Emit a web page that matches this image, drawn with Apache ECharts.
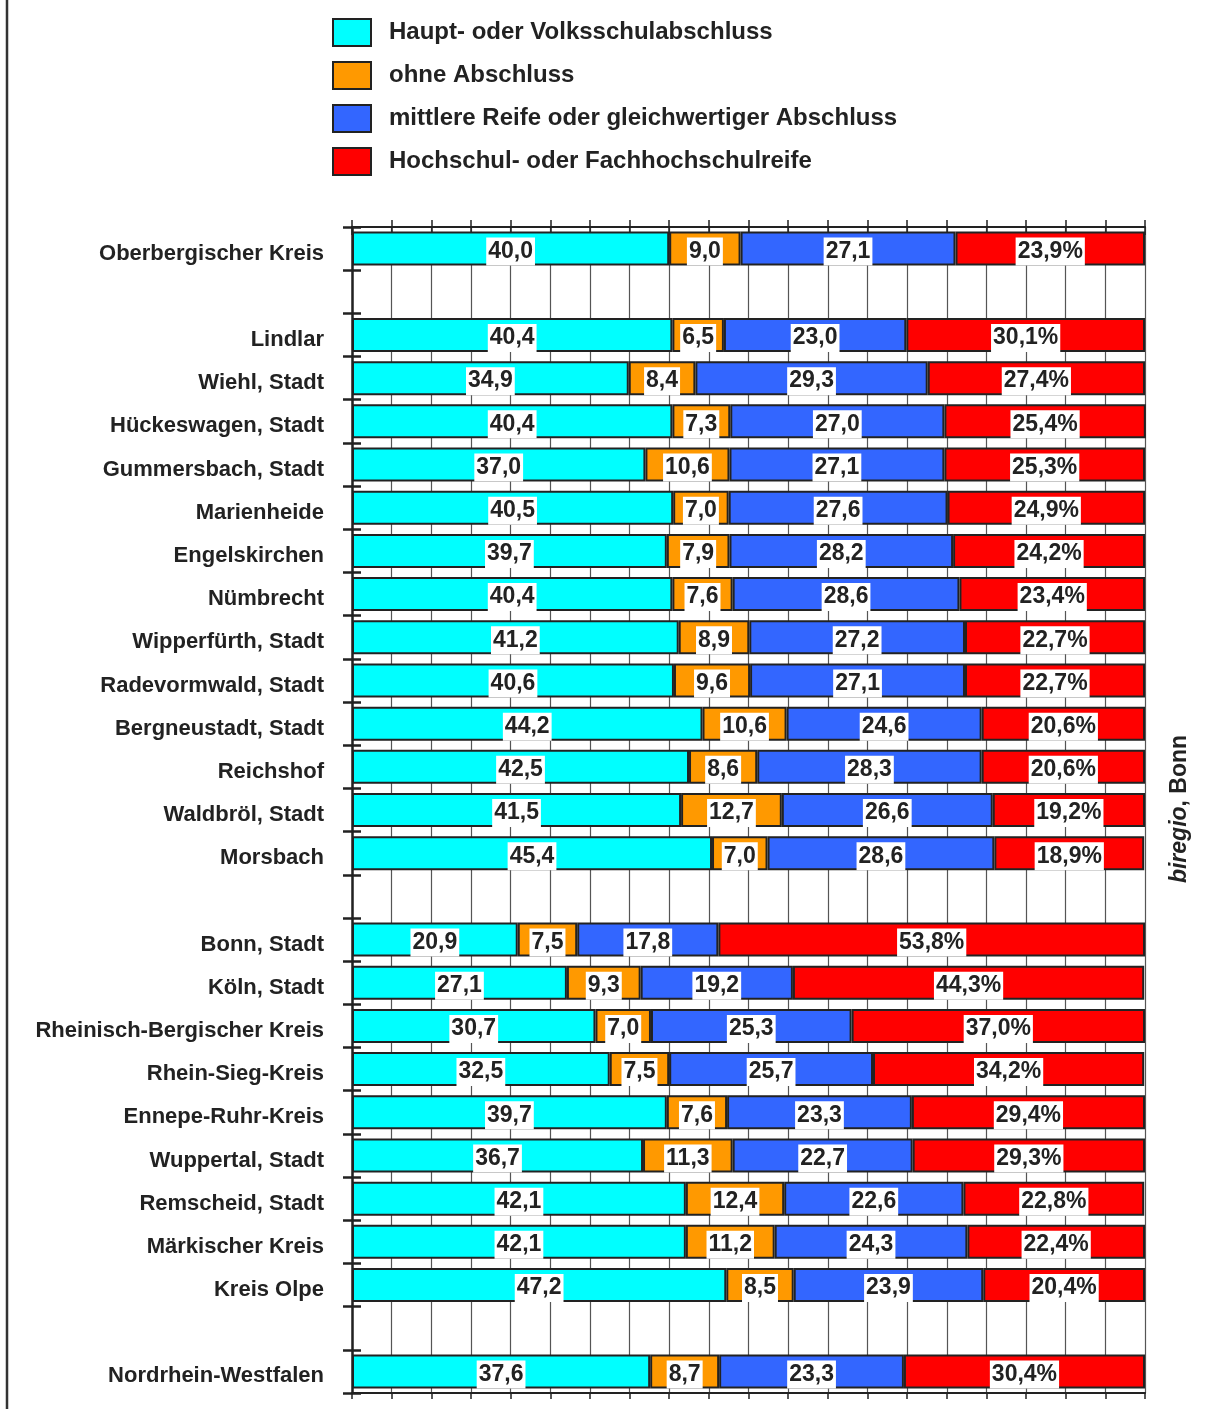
<!DOCTYPE html>
<html><head><meta charset="utf-8">
<script src="https://cdn.jsdelivr.net/npm/echarts@6/dist/echarts.min.js"></script>
<style>html,body{margin:0;padding:0;background:#fff}#c{width:1216px;height:1409px}</style>
</head><body><div id="c"></div>
<script>
const categories = ['Oberbergischer Kreis','', 'Lindlar','Wiehl, Stadt','Hückeswagen, Stadt','Gummersbach, Stadt','Marienheide','Engelskirchen','Nümbrecht','Wipperfürth, Stadt','Radevormwald, Stadt','Bergneustadt, Stadt','Reichshof','Waldbröl, Stadt','Morsbach','', 'Bonn, Stadt','Köln, Stadt','Rheinisch-Bergischer Kreis','Rhein-Sieg-Kreis','Ennepe-Ruhr-Kreis','Wuppertal, Stadt','Remscheid, Stadt','Märkischer Kreis','Kreis Olpe','', 'Nordrhein-Westfalen'];
const haupt   = [40.0,null,40.4,34.9,40.4,37.0,40.5,39.7,40.4,41.2,40.6,44.2,42.5,41.5,45.4,null,20.9,27.1,30.7,32.5,39.7,36.7,42.1,42.1,47.2,null,37.6];
const ohne    = [9.0,null,6.5,8.4,7.3,10.6,7.0,7.9,7.6,8.9,9.6,10.6,8.6,12.7,7.0,null,7.5,9.3,7.0,7.5,7.6,11.3,12.4,11.2,8.5,null,8.7];
const mittel  = [27.1,null,23.0,29.3,27.0,27.1,27.6,28.2,28.6,27.2,27.1,24.6,28.3,26.6,28.6,null,17.8,19.2,25.3,25.7,23.3,22.7,22.6,24.3,23.9,null,23.3];
const hoch    = [23.9,null,30.1,27.4,25.4,25.3,24.9,24.2,23.4,22.7,22.7,20.6,20.6,19.2,18.9,null,53.8,44.3,37.0,34.2,29.4,29.3,22.8,22.4,20.4,null,30.4];
const seriesNames = ['Haupt- oder Volksschulabschluss','ohne Abschluss','mittlere Reife oder gleichwertiger Abschluss','Hochschul- oder Fachhochschulreife'];
const colors = ['#00FFFF','#FF9900','#3366FF','#FF0000'];
const FONT = '"Liberation Sans", Arial, sans-serif';

const chart = echarts.init(document.getElementById('c'), null, {renderer:'canvas'});
const fmt = v => v.toFixed(1).replace('.', ',');
function mk(i, arr, pct) {
  return {
    name: seriesNames[i], type: 'bar', stack: 'all', xAxisIndex: 0, yAxisIndex: 0,
    barWidth: 34, clip: true,
    data: arr.map(v => v == null ? '-' : v),
    itemStyle: {color: colors[i], borderColor: '#222', borderWidth: 2},
    label: {
      show: true, position: 'inside', color: '#222', fontFamily: FONT, fontWeight: 'bold', fontSize: 23,
      backgroundColor: '#fff', padding: [5, 2, 0, 2], lineHeight: 23, offset: [0, 3],
      formatter: p => fmt(p.value) + (pct ? '%' : '')
    },
    emphasis: {disabled: true}
  };
}
chart.setOption({
  animation: false,
  backgroundColor: '#fff',
  color: colors,
  grid: {left: 352, right: 71, top: 227, bottom: 16, containLabel: false},
  legend: {
    orient: 'vertical', left: 332, top: 18, padding: 0, itemWidth: 38, itemHeight: 27, itemGap: 14,
    icon: 'rect', selectedMode: false,
    textStyle: {fontFamily: FONT, fontWeight: 'bold', fontSize: 24, lineHeight: 27, color: '#222', padding: [0,0,0,13]},
    data: seriesNames
  },
  xAxis: [
    {type: 'value', position: 'top', min: 0, max: 100, interval: 5,
     axisLine: {show: true, lineStyle: {color: '#222', width: 2}},
     axisTick: {show: true, length: 7, lineStyle: {color: '#222', width: 1.5}},
     axisLabel: {show: false},
     splitLine: {show: true, lineStyle: {color: '#555', width: 1.2}}},
    {type: 'value', position: 'bottom', min: 0, max: 100, interval: 5,
     axisLine: {show: true, lineStyle: {color: '#222', width: 2}},
     axisTick: {show: true, length: 6, lineStyle: {color: '#222', width: 1.5}},
     axisLabel: {show: false}, splitLine: {show: false}},
    {type: 'value', position: 'top', min: 0, max: 100, interval: 5,
     axisLine: {show: false},
     axisTick: {show: true, inside: true, length: 8, lineStyle: {color: '#222', width: 1.5}},
     axisLabel: {show: false}, splitLine: {show: false}}
  ],
  yAxis: [
    {type: 'category', data: categories, inverse: true, position: 'left',
     axisLine: {show: true, lineStyle: {color: '#222', width: 2.5}},
     axisTick: {show: true, length: 9, lineStyle: {color: '#222', width: 2.5}},
     axisLabel: {margin: 28, formatter: v => v ? '{a|' + v + '}' : '',
       rich: {a: {fontFamily: FONT, fontWeight: 'bold', fontSize: 22, color: '#222', padding: [10, 0, 0, 0]}}}},
    {type: 'category', data: categories, inverse: true, position: 'left',
     axisLine: {show: false},
     axisTick: {show: true, inside: true, length: 9, lineStyle: {color: '#222', width: 2.5}},
     axisLabel: {show: false}}
  ],
  series: [mk(0, haupt, false), mk(1, ohne, false), mk(2, mittel, false), mk(3, hoch, true)],
  graphic: [
    {type: 'line', shape: {x1: 7, y1: 0, x2: 7, y2: 1409}, style: {stroke: '#333', lineWidth: 2.5}},
    {type: 'text', x: 1180, y: 809, rotation: Math.PI / 2,
     style: {text: '{i|biregio}{n|, Bonn}', align: 'center', verticalAlign: 'middle',
       rich: {i: {fontFamily: FONT, fontWeight: 'bold', fontStyle: 'italic', fontSize: 23, fill: '#222'},
              n: {fontFamily: FONT, fontWeight: 'bold', fontSize: 23, fill: '#222'}}}}
  ]
});
</script></body></html>
